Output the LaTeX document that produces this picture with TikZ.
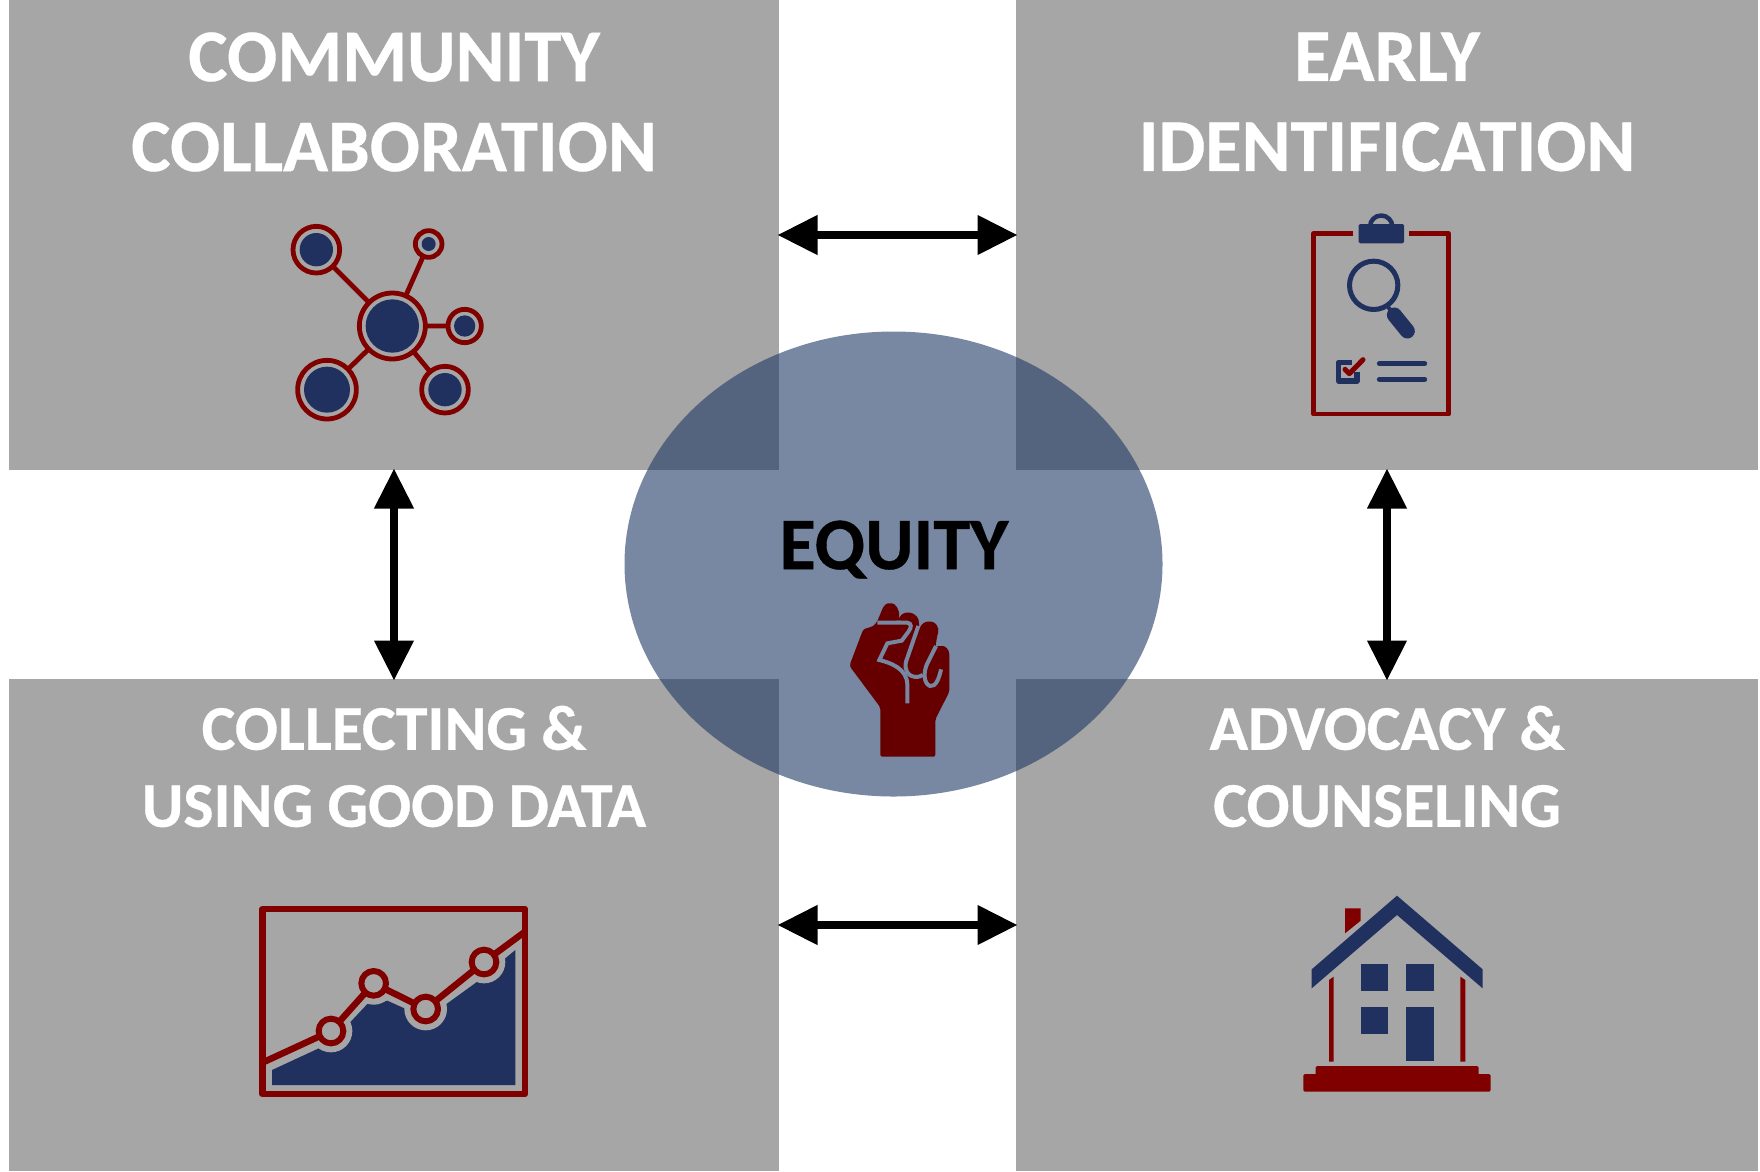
\documentclass[tikz,border=0pt]{standalone}
\usepackage{fontspec}
\setmainfont{Carlito}
\newfontfamily\titlefont[BoldFeatures={FakeBold=0.5}]{Carlito}
\usetikzlibrary{arrows.meta,shapes.geometric}
\definecolor{panelgray}{HTML}{A6A6A6}
\definecolor{iconred}{HTML}{800000}
\definecolor{iconnavy}{HTML}{20315F}
\definecolor{ovalblue}{HTML}{1F3864}
\definecolor{ovalflat}{HTML}{7887A1}
\definecolor{fistred}{HTML}{660000}
\tikzset{
  panel/.style={fill=panelgray,draw=none,inner sep=0pt,outer sep=0pt,minimum height=#1},
  linkarrow/.style={line width=7.5pt,shorten <=-1.5pt,shorten >=-1.5pt,{Triangle[length=40pt,width=38pt]}-{Triangle[length=40pt,width=38pt]}},
  bigtitle/.style={text=white,align=center,font=\titlefont\bfseries\fontsize{74.3}{90}\selectfont,inner sep=0pt},
  smalltitle/.style={text=white,align=center,font=\titlefont\bfseries\fontsize{63.7}{77}\selectfont,inner sep=0pt},
  zoomed/.style={x=0.33333pt,y=-0.33333pt},
  redline/.style={draw=iconred,line join=round},
  navyline/.style={draw=iconnavy,line join=round},
}
\begin{document}
\begin{tikzpicture}[x=1pt,y=-1pt]
\path[use as bounding box,fill=white] (0,0) rectangle (1760,1171);
% panels
\node[panel=470pt,minimum width=770pt] (tl) at (394,235) {};
\node[panel=470pt,minimum width=742pt] (tr) at (1387,235) {};
\node[panel=492pt,minimum width=770pt] (bl) at (394,925) {};
\node[panel=492pt,minimum width=742pt] (br) at (1387,925) {};
% oval
\node[ellipse,fill=ovalblue,fill opacity=0.6,draw=none,inner sep=0pt,outer sep=0pt,minimum width=538pt,minimum height=465pt] (oval) at (893.5,564) {};
% arrows
\draw[linkarrow] (tl.east) -- (tr.west);
\draw[linkarrow] (bl.east) -- (br.west);
\draw[linkarrow] (tl.south) -- (bl.north);
\draw[linkarrow] (tr.south) -- (br.north);
% titles
\node[bigtitle] (t1) at (394,102) {COMMUNITY\\COLLABORATION};
\node[bigtitle] (t2) at (1387,102) {EARLY\\IDENTIFICATION};
\node[smalltitle] (t3) at (394,766.5) {COLLECTING \&\\USING GOOD DATA};
\node[smalltitle] (t4) at (1387,766.5) {ADVOCACY \&\\COUNSELING};
\node[inner sep=0pt,font=\titlefont\bfseries\fontsize{74}{74}\selectfont,text=black] (eq) at (894,549.5) {EQUITY};
% network icon
\begin{scope}[shift={(270,200)},zoomed]
  \draw[redline,line width=4.8pt] (139,149)--(367,378) (476,132)--(367,378) (584,378)--(367,378) (171,569)--(367,378) (525,569)--(367,378);
  \foreach \cx/\cy/\ro/\ri in {367/378/99/80, 139/149/70/50, 476/132/40/21, 584/378/50/32, 171/569/88/69, 525/569/70/50}{
    \fill[panelgray] (\cx,\cy) circle[radius=\ro];
    \draw[redline,line width=4.8pt] (\cx,\cy) circle[radius=\ro];
    \fill[iconnavy] (\cx,\cy) circle[radius=\ri];
  }
\end{scope}
% clipboard icon
\begin{scope}[shift={(1290,200)},zoomed]
  \draw[redline,line width=4.8pt] (190,101)--(71,101)--(71,642)--(476,642)--(476,101)--(356,101);
  \draw[navyline,line width=4.5pt] (240,80) arc[start angle=180,end angle=360,radius=33.5];
  \fill[iconnavy,rounded corners=1.5pt] (206,72) rectangle (342,130);
  \draw[navyline,line width=5pt] (251,256) circle[radius=72.5];
  \draw[navyline,line width=4pt] (295,322)--(318,352);
  \draw[navyline,line width=15pt,line cap=round] (313,345)--(352,393);
  \draw[navyline,line width=5.5pt] (185,487)--(146,487)--(146,543)--(201,543)--(201,515);
  \draw[redline,line width=5pt,line cap=round] (165,508)--(178,521)--(219,479);
  \draw[navyline,line width=5pt,line cap=round] (268,491)--(404,491) (268,538)--(404,538);
\end{scope}
% fist icon
\begin{scope}[shift={(830,590)},zoomed]
  \fill[fistred,rounded corners=2pt] (151,500)--(316,500)--(316,388)--(358,305)--(358,200)
    .. controls (358,178) and (345,168) .. (333,168)
    .. controls (325,168) and (320,170) .. (316,172)
    --(322,135)
    .. controls (330,112) and (315,95) .. (298,95)
    .. controls (285,95) and (275,102) .. (267,118)
    --(267,95)
    .. controls (262,75) and (245,68) .. (233,68)
    .. controls (220,68) and (212,75) .. (205,88)
    .. controls (212,60) and (195,40) .. (180,40)
    .. controls (168,40) and (160,50) .. (155,62)
    --(140,98)--(125,112)
    .. controls (110,112) and (100,118) .. (95,130)
    --(64,212)
    .. controls (60,222) and (60,230) .. (66,238)
    --(151,352)--cycle;
  \draw[ovalflat,line width=4pt] (142,98)--(232,98)
    .. controls (245,100) and (245,112) .. (236,124)
    --(215,152)--(172,160)--(148,210)
    .. controls (180,218) and (232,235) .. (232,285)--(232,340);
  \draw[ovalflat,line width=4pt] (205,92)--(205,98) (265,108)--(228,215)
    .. controls (222,240) and (235,255) .. (245,258)
    .. controls (255,262) and (268,262) .. (278,255);
  \draw[ovalflat,line width=4pt] (318,168)--(292,220)
    .. controls (280,245) and (280,280) .. (300,288)
    .. controls (318,292) and (328,262) .. (333,238);
\end{scope}
% chart icon
\begin{scope}[shift={(250,890)},zoomed]
  \fill[iconnavy] (66,585)--(66,540)--(243,458)--(352,342)--(412,332)--(530,385)--(675,280)--(796,180)--(796,585)--cycle;
  \foreach \cx/\cy in {243/423,371/280,527/357,702/216}{
    \fill[panelgray] (\cx,\cy) circle[radius=64];
  }
  \draw[redline,line width=6.5pt] (37,57) rectangle (825,612);
  \draw[redline,line width=6.5pt] (37,518)--(243,423)--(371,280)--(527,357)--(702,216)--(825,125);
  \foreach \cx/\cy in {243/423,371/280,527/357,702/216}{
    \fill[panelgray] (\cx,\cy) circle[radius=37];
    \draw[redline,line width=6pt] (\cx,\cy) circle[radius=37];
  }
\end{scope}
% house icon
\begin{scope}[shift={(1290,880)},zoomed]
  \fill[iconred] (165,85)--(212,85)--(212,122)--(165,160)--cycle;
  \fill[iconred] (117,300)--(131,290)--(131,545)--(117,545)--cycle;
  \fill[iconred] (511,290)--(526,300)--(526,545)--(511,545)--cycle;
  \fill[iconnavy] (321,47)--(578,268)--(578,325)--(321,105)--(65,325)--(65,268)--cycle;
  \fill[iconnavy] (212,251) rectangle (294,333);
  \fill[iconnavy] (349,251) rectangle (431,333);
  \fill[iconnavy] (212,380) rectangle (294,462);
  \fill[iconnavy] (349,380) rectangle (431,544);
  \fill[iconred,rounded corners=1.5pt] (77,558) rectangle (566,590);
  \fill[iconred,rounded corners=1.5pt] (40,582) rectangle (602,635);
\end{scope}
\end{tikzpicture}
\end{document}
